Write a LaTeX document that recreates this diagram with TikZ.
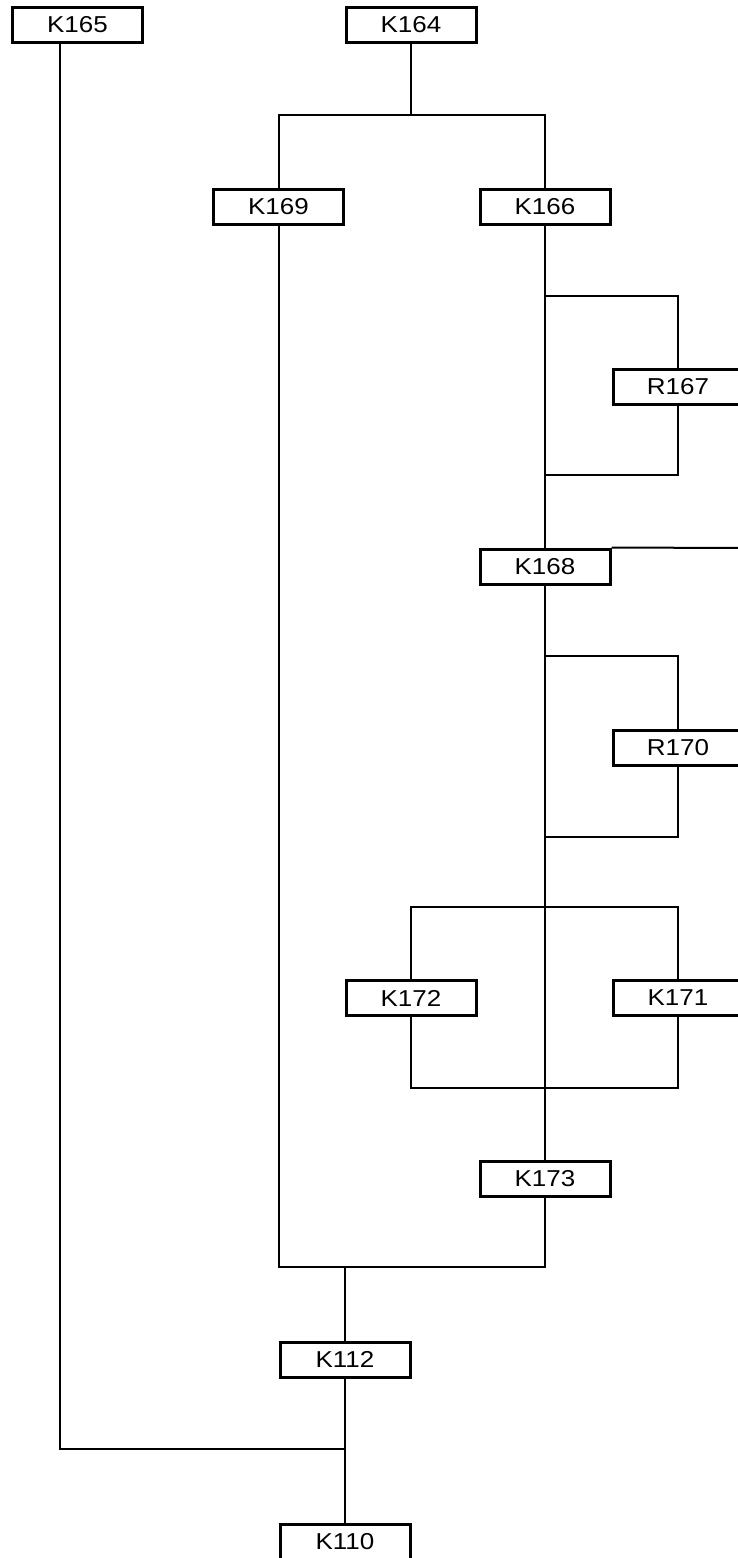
\documentclass[tikz,border=0pt]{standalone}
\usepackage{fontspec}
\setmainfont{Liberation Sans}
\pgfdeclarelayer{bg}
\pgfsetlayers{bg,main}
\newcommand{\lbl}[1]{\scalebox{1.13}[1]{#1}}
\begin{document}
\begin{tikzpicture}[x=1pt,y=-1pt,
  blk/.style={draw=black,line width=3pt,fill=white,minimum width=130pt,minimum height=35pt,inner sep=0pt,font=\fontsize{23}{23}\selectfont},
  wire/.style={draw=black,line width=2pt}]
\useasboundingbox (0,0) rectangle (738,1558);
\clip (0,0) rectangle (738,1558);
% coordinates
\coordinate (b1) at (411,115);
\coordinate (l1a) at (545,296);
\coordinate (l1b) at (545,475);
\coordinate (e1) at (740,548);
\coordinate (l2a) at (545,656);
\coordinate (l2b) at (545,837);
\coordinate (p1) at (545,907);
\coordinate (p2) at (545,1088);
\coordinate (j1) at (345,1267);
\coordinate (j2) at (345,1449);
\coordinate (k165out) at (60,43);
% boxes
\node[blk] (K165) at (77.5,24.5) {\lbl{K165}};
\node[blk] (K164) at (411,24.5) {\lbl{K164}};
\node[blk] (K169) at (278.5,206.5) {\lbl{K169}};
\node[blk] (K166) at (545,206.5) {\lbl{K166}};
\node[blk] (R167) at (678,387) {\lbl{R167}};
\node[blk] (K168) at (545,566.5) {\lbl{K168}};
\node[blk] (R170) at (678,747.5) {\lbl{R170}};
\node[blk] (K172) at (411,998) {\lbl{K172}};
\node[blk] (K171) at (678,998) {\lbl{K171}};
\node[blk] (K173) at (545,1178.5) {\lbl{K173}};
\node[blk] (K112) at (345,1359.5) {\lbl{K112}};
\node[blk] (K110) at (345,1541.5) {\lbl{K110}};
% connectors
\begin{pgfonlayer}{bg}
\fill[white] (0,0) rectangle (738,1558);
\draw[wire] (K164.south) -- (b1);
\draw[wire] (K169.north) |- (b1) -| (K166.north);
\draw[wire] (K166.south) -- (K168.north);
\draw[wire] (l1a) -| (R167.north);
\draw[wire] (R167.south) |- (l1b);
\draw[wire] (K168.north east) -- (e1);
\draw[wire] (K168.south) -- (K173.north);
\draw[wire] (l2a) -| (R170.north);
\draw[wire] (R170.south) |- (l2b);
\draw[wire] (K172.north) |- (p1) -| (K171.north);
\draw[wire] (K172.south) |- (p2) -| (K171.south);
\draw[wire] (K169.south) |- (j1) -| (K173.south);
\draw[wire] (j1) -- (K112.north);
\draw[wire] (K112.south) -- (K110.north);
\draw[wire] (k165out) |- (j2);
\end{pgfonlayer}
\end{tikzpicture}
\end{document}
